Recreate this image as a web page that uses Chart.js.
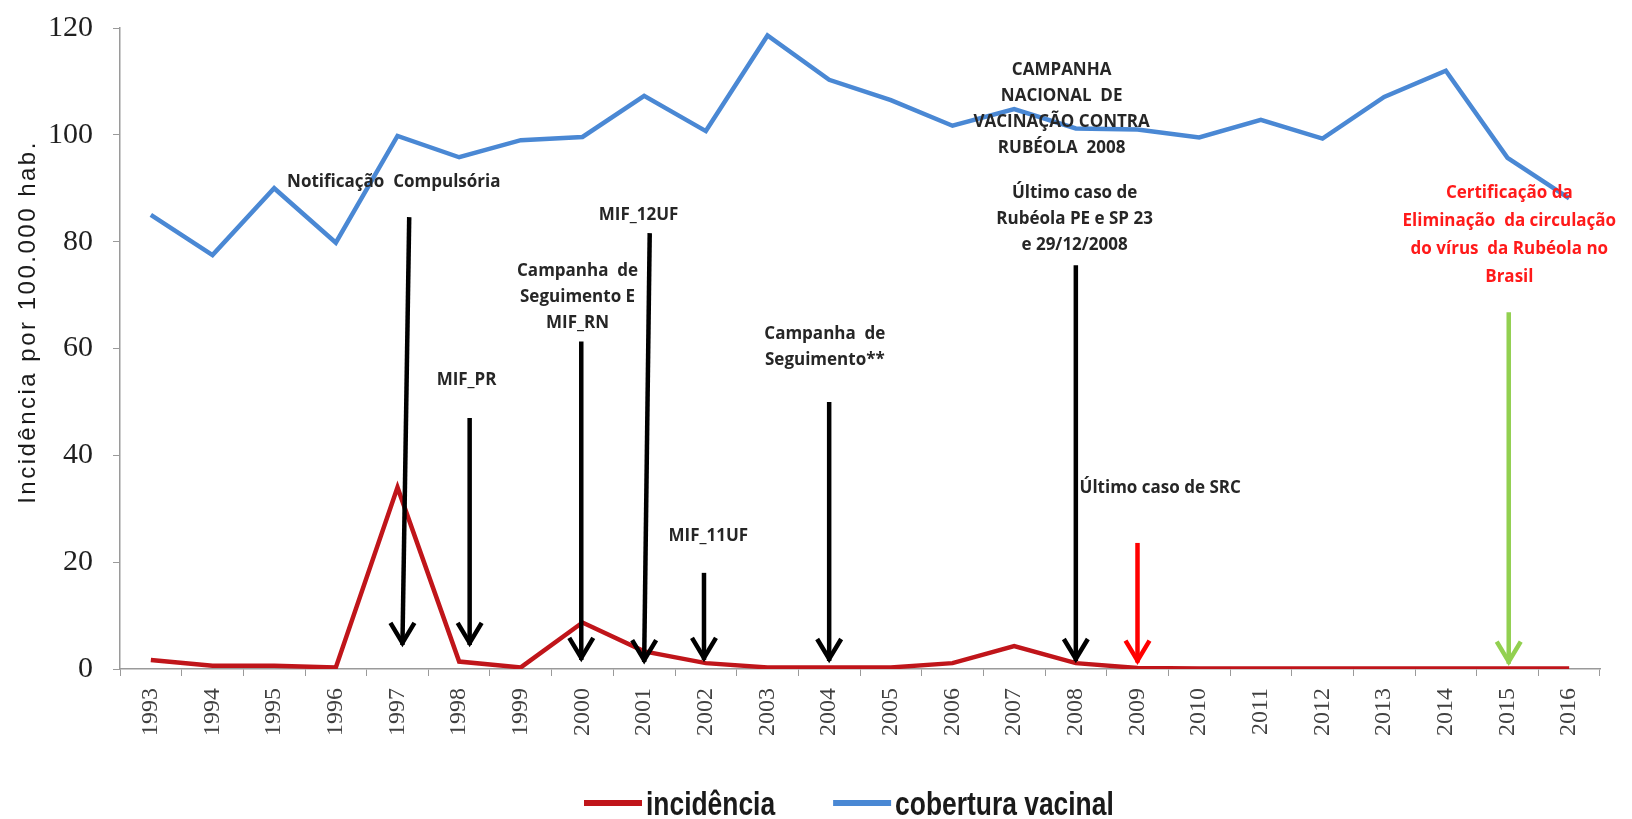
<!DOCTYPE html>
<html lang="pt">
<head>
    <meta charset="UTF-8">
    <title>Incidência e cobertura vacinal - Rubéola</title>
    <script src="https://cdn.jsdelivr.net/npm/chart.js"></script>
    <style>
        html, body { margin: 0; padding: 0; background: #fff; }
        #wrap { width: 1632px; height: 819px; }
    </style>
</head>
<body>
    <div id="wrap"><canvas id="chart"></canvas></div>

    <script>
        // data
        const years = ['1993', '1994', '1995', '1996', '1997', '1998', '1999', '2000', '2001', '2002', '2003', '2004',
                       '2005', '2006', '2007', '2008', '2009', '2010', '2011', '2012', '2013', '2014', '2015', '2016'];
        const incidencia = [1.7, 0.6, 0.6, 0.3, 34.0, 1.4, 0.3, 8.7, 3.3, 1.1, 0.3, 0.3,
                            0.3, 1.1, 4.3, 1.1, 0.2, 0.1, 0.1, 0.1, 0.1, 0.1, 0.1, 0.1];
        const cobertura = [85.0, 77.5, 90.0, 79.8, 99.8, 95.8, 99.0, 99.6, 107.3, 100.7, 118.6, 110.3,
                           106.5, 101.7, 104.8, 101.2, 101.0, 99.5, 102.8, 99.3, 107.1, 112.0, 95.7, 88.1];
        const yTicks = [0, 20, 40, 60, 80, 100, 120];

        // arrows: year, value at the top end, value at the tip
        const arrowYears = ['1997', '1998', '2000', '2001', '2002', '2004', '2008', '2009', '2015'];
        const arrowTop = [84.6, 47, 61.3, 81.6, 18, 50, 75.6, 23.6, 66.8];
        const arrowTip = [4.5, 4.5, 1.7, 1.3, 1.7, 1.5, 1.5, 1.2, 1.0];

        // notes: year they sit over, value of first line, lines
        const notes = [
            { year: '1997', value: 91.2, lines: ['Notificação  Compulsória'] },
            { year: '1998', value: 54.1, lines: ['MIF_PR'] },
            { year: '2000', value: 74.4, lines: ['Campanha  de', 'Seguimento E', 'MIF_RN'] },
            { year: '2001', value: 84.9, lines: ['MIF_12UF'] },
            { year: '2002', value: 24.9, lines: ['MIF_11UF'] },
            { year: '2004', value: 62.6, lines: ['Campanha  de', 'Seguimento**'] },
            { year: '2008', value: 112.1, lines: ['CAMPANHA', 'NACIONAL  DE', 'VACINAÇÃO CONTRA', 'RUBÉOLA  2008'] },
            { year: '2008', value: 89.1, lines: ['Último caso de', 'Rubéola PE e SP 23', 'e 29/12/2008'] },
            { year: '2008', value: 33.8, lines: ['Último caso de SRC'] },
            { year: '2015', value: 89.1, lines: ['Certificação da', 'Eliminação  da circulação', 'do vírus  da Rubéola no', 'Brasil'] }
        ];

        // small nudges (in category widths) and colours for the annotations
        const arrowStyle = [
            { dxTop: 0.19, dxTip: 0.08, color: '#000000' },
            { dxTop: 0.17, dxTip: 0.17, color: '#000000' },
            { dxTop: -0.02, dxTip: -0.02, color: '#000000' },
            { dxTop: 0.09, dxTip: 0.0, color: '#000000' },
            { dxTop: -0.03, dxTip: -0.03, color: '#000000' },
            { dxTop: 0, dxTip: 0, color: '#000000' },
            { dxTop: 0, dxTip: 0, color: '#000000' },
            { dxTop: 0, dxTip: 0, color: '#ff0000' },
            { dxTop: 0.02, dxTip: 0.02, color: '#92d050' }
        ];
        const noteStyle = [
            { dx: -0.06 }, { dx: 0.12 }, { dx: -0.08 }, { dx: -0.09 }, { dx: 0.04 }, { dx: -0.07 },
            { dx: -0.23 }, { dx: -0.02 }, { dx: 0.06, align: 'left' }, { dx: 0.03, color: '#ff1a1a', lh: 28 }
        ];

        const NOTE_FONT = 'bold 17px "Open Sans", "DejaVu Sans", sans-serif';
        const NOTE_LINE = 26;

        // legend drawn by hand so the narrow Excel font can be imitated
        const LEGEND_LEFT = 584;
        const LEGEND_BASE = 815;
        const LEGEND_FONT = 'bold 33px "Liberation Sans", Arial, sans-serif';
        const LEGEND_SQUEEZE = 0.8;

        const annotations = {
            id: 'annotations',
            afterDatasetsDraw(chart) {
                const { ctx, scales: { x, y } } = chart;
                const xAt = (year, dx) => x.getPixelForValue(years.indexOf(year) + dx);
                ctx.save();

                // arrows
                arrowYears.forEach((yr, i) => {
                    const st = arrowStyle[i];
                    const x1 = xAt(yr, st.dxTop), y1 = y.getPixelForValue(arrowTop[i]);
                    const x2 = xAt(yr, st.dxTip), y2 = y.getPixelForValue(arrowTip[i]);
                    ctx.strokeStyle = st.color;
                    ctx.lineWidth = 4.5;
                    ctx.lineCap = 'butt';
                    ctx.lineJoin = 'miter';
                    ctx.beginPath();
                    ctx.moveTo(x1, y1);
                    ctx.lineTo(x2, y2);
                    ctx.stroke();
                    ctx.beginPath();
                    ctx.moveTo(x2 - 12, y2 - 22);
                    ctx.lineTo(x2, y2 - 2);
                    ctx.lineTo(x2 + 12, y2 - 22);
                    ctx.stroke();
                });

                // notes
                ctx.font = NOTE_FONT;
                ctx.textBaseline = 'middle';
                notes.forEach((n, i) => {
                    const st = noteStyle[i];
                    const nx = xAt(n.year, st.dx);
                    const ny = y.getPixelForValue(n.value);
                    ctx.fillStyle = st.color || '#262626';
                    ctx.textAlign = st.align || 'center';
                    n.lines.forEach((line, k) => ctx.fillText(line, nx, ny + k * (st.lh || NOTE_LINE)));
                });

                // y axis title
                ctx.save();
                ctx.translate(28, 322);
                ctx.rotate(-Math.PI / 2);
                ctx.font = '24px "Liberation Sans", Arial, sans-serif';
                ctx.letterSpacing = '2.5px';
                ctx.fillStyle = '#1a1a1a';
                ctx.textAlign = 'center';
                ctx.fillText('Incidência por 100.000 hab.', 0, 0);
                ctx.restore();

                // legend
                ctx.font = LEGEND_FONT;
                ctx.textAlign = 'left';
                ctx.textBaseline = 'alphabetic';
                let cx = LEGEND_LEFT;
                chart.data.datasets.forEach(ds => {
                    ctx.strokeStyle = ds.borderColor;
                    ctx.lineWidth = 6;
                    ctx.beginPath();
                    ctx.moveTo(cx, LEGEND_BASE - 12);
                    ctx.lineTo(cx + 58, LEGEND_BASE - 12);
                    ctx.stroke();
                    cx += 62;
                    ctx.save();
                    ctx.translate(cx, LEGEND_BASE);
                    ctx.scale(LEGEND_SQUEEZE, 1);
                    ctx.fillStyle = '#1a1a1a';
                    ctx.fillText(ds.label, 0, 0);
                    ctx.restore();
                    cx += ctx.measureText(ds.label).width * LEGEND_SQUEEZE + 58;
                });

                ctx.restore();
            }
        };

        new Chart(document.getElementById('chart'), {
            type: 'line',
            data: {
                labels: years,
                datasets: [
                    {
                        label: 'incidência',
                        data: incidencia,
                        borderColor: '#c0151a',
                        backgroundColor: '#c0151a',
                        borderWidth: 4.5,
                        pointRadius: 0,
                        tension: 0
                    },
                    {
                        label: 'cobertura vacinal',
                        data: cobertura,
                        borderColor: '#4a88d4',
                        backgroundColor: '#4a88d4',
                        borderWidth: 4.5,
                        pointRadius: 0,
                        tension: 0
                    }
                ]
            },
            options: {
                responsive: true,
                maintainAspectRatio: false,
                animation: false,
                layout: { padding: { top: 28, right: 32, bottom: 73, left: 0 } },
                plugins: {
                    tooltip: { enabled: false },
                    legend: { display: false }
                },
                scales: {
                    x: {
                        offset: true,
                        grid: { drawOnChartArea: false, drawTicks: true, tickLength: 7, color: '#9a9a9a', offset: true },
                        border: { color: '#9a9a9a', width: 1.5 },
                        ticks: {
                            autoSkip: false,
                            minRotation: 90,
                            maxRotation: 90,
                            padding: 12,
                            color: '#404040',
                            font: { family: '"Liberation Serif", "Times New Roman", serif', size: 24 }
                        },
                        afterFit(scale) { scale.height = 77; }
                    },
                    y: {
                        min: 0,
                        max: 120,
                        afterBuildTicks(scale) { scale.ticks = yTicks.map(v => ({ value: v })); },
                        grid: { drawOnChartArea: false, drawTicks: true, tickLength: 7, color: '#9a9a9a' },
                        border: { color: '#9a9a9a', width: 1.5 },
                        ticks: {
                            padding: 20,
                            color: '#1f1f1f',
                            font: { family: '"Liberation Serif", "Times New Roman", serif', size: 30 }
                        },
                        afterFit(scale) {
                            scale.width = 120;
                            scale.paddingTop = 0;
                            scale.paddingBottom = 0;
                        }
                    }
                }
            },
            plugins: [annotations]
        });
    </script>
</body>
</html>
